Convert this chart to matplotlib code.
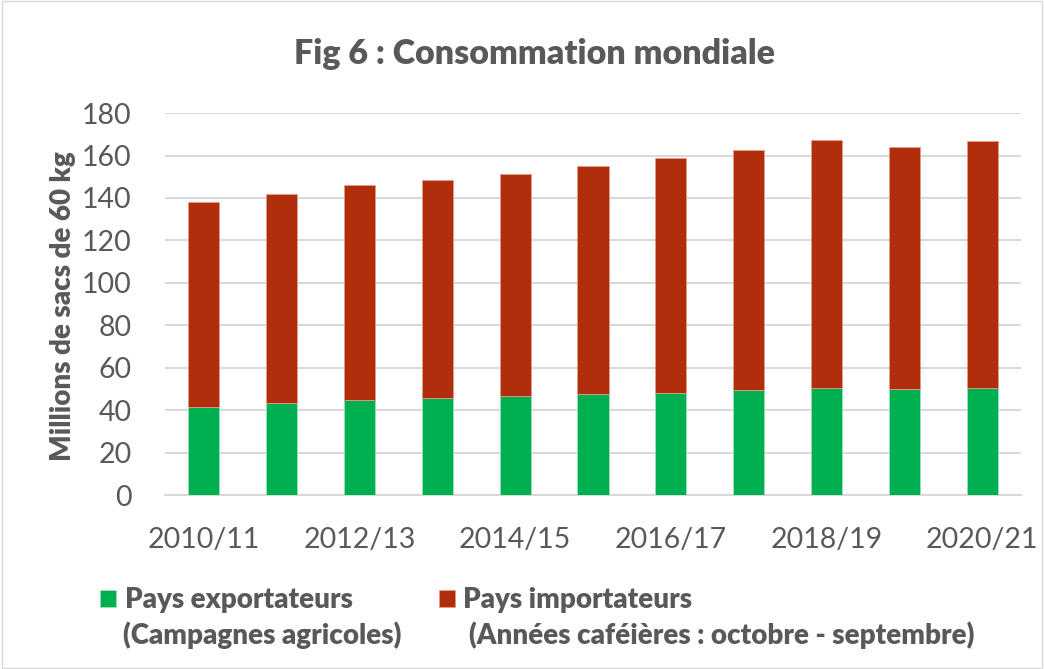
import matplotlib.pyplot as plt
from matplotlib.patches import Rectangle

plt.rcParams['font.family'] = ['Lato', 'DejaVu Sans']

saisons = ['2010/11', '2011/12', '2012/13', '2013/14', '2014/15', '2015/16',
           '2016/17', '2017/18', '2018/19', '2019/20', '2020/21']
exportateurs = [41.7, 43.3, 45.0, 45.5, 46.6, 47.5, 48.3, 49.7, 50.3, 50.1, 50.6]
importateurs = [96.6, 98.4, 101.0, 102.8, 104.5, 107.7, 110.6, 113.0, 117.1, 113.7, 116.4]

vert = '#00B050'
rouge = '#B02E0C'
gris = '#595959'

fig = plt.figure(figsize=(10.44, 6.69), dpi=100)
ax = fig.add_axes([0.158, 0.260, 0.820, 0.571])

x = range(len(saisons))
ax.bar(x, exportateurs, width=0.4, color=vert, edgecolor='#9fe0b8', linewidth=0.6,
       label='Pays exportateurs', zorder=3)
ax.bar(x, importateurs, width=0.4, bottom=exportateurs, color=rouge,
       edgecolor='#e59a88', linewidth=0.6, label='Pays importateurs', zorder=3)

ax.set_xlim(-0.5, len(saisons) - 0.5)
ax.set_ylim(0, 180)
ax.set_yticks(range(0, 181, 20))
ax.set_xticks(list(x)[::2])
ax.set_xticklabels(saisons[::2])
ax.tick_params(axis='both', length=0, labelsize=20.5, labelcolor=gris)
ax.tick_params(axis='x', pad=23)
ax.tick_params(axis='y', pad=24)
ax.grid(axis='y', color='#d9d9d9', linewidth=1.5, zorder=0)
for s in ['top', 'right', 'left']:
    ax.spines[s].set_visible(False)
ax.spines['bottom'].set_color('#d9d9d9')
ax.spines['bottom'].set_linewidth(1.5)

ax.set_ylabel('Millions de sacs de 60 kg', fontsize=20, fontweight='heavy', color=gris,
              ha='center', va='center', rotation_mode='default')
ax.yaxis.set_label_coords(-0.119, 0.495)

fig.text(0.512, 0.92, 'Fig 6 : Consommation mondiale', ha='center', va='center',
         fontsize=24.5, fontweight='heavy', color=gris)

leg = fig.legend(loc='center left', bbox_to_anchor=(0.072, 0.103), ncol=2, frameon=False,
                 fontsize=20, handlelength=0.58, handleheight=0.58, handletextpad=0.3,
                 columnspacing=3.1)
for t in leg.get_texts():
    t.set_fontweight('heavy')
    t.set_color(gris)
fig.text(0.118, 0.051, '(Campagnes agricoles)', ha='left', va='center',
         fontsize=20, fontweight='heavy', color=gris)
fig.text(0.449, 0.051, '(Années caféières : octobre - septembre)', ha='left', va='center',
         fontsize=20, fontweight='heavy', color=gris)

fig.patches.append(Rectangle((0.002, 0.002), 0.996, 0.996, transform=fig.transFigure,
                             fill=False, edgecolor='#d9d9d9', linewidth=1))

fig.savefig('out.png', dpi=100)
